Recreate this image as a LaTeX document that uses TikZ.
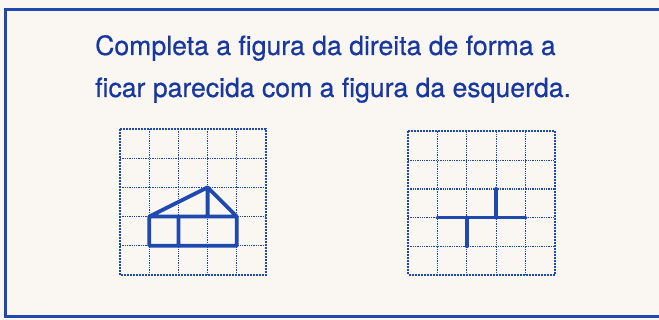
\documentclass[tikz,border=0pt]{standalone}
\usepackage{fontspec}
\setmainfont{TeX Gyre Heros}[FakeBold=0.6]
\usetikzlibrary{positioning}
\definecolor{azul}{RGB}{30,74,176}
\definecolor{azulescuro}{RGB}{24,56,160}
\definecolor{papel}{RGB}{250,247,243}

\begin{document}
\begin{tikzpicture}[x=1pt,y=-1pt,
			quadricula/.style={azul, line width=1.3pt, densely dotted},
			bordo/.style={azul, line width=2pt, densely dotted},
			figura/.style={azul, line width=3.8pt, line join=round, line cap=round},
			moldura/.style={draw=azul, line width=3pt},
			enunciado/.style={anchor=base west, inner sep=0pt, text=azulescuro,
					font=\fontsize{26.6}{30}\selectfont}
		]
		\useasboundingbox[fill=papel] (0,0) rectangle (659,320);
		\draw[moldura] (5.5,10) rectangle (690,316.5);
		\node[enunciado] (linha1) at (95,55) {Completa a figura da direita de forma a};
		\node[enunciado] (linha2) at (95,97) {ficar parecida com a figura da esquerda.};
		% figura da esquerda
		\begin{scope}[shift={(120,129)}, x=29.2pt, y=-29.2pt]
			\foreach \i in {1,...,4} {
					\draw[quadricula] (\i,0) -- (\i,5);
					\draw[quadricula] (0,\i) -- (5,\i);
				}
			\draw[bordo] (0,0) rectangle (5,5);
			\draw[figura] (1,3) rectangle (4,4) (2,3) -- (2,4)
			(1,3) -- (3,2) -- (4,3) (3,2) -- (3,3);
		\end{scope}
		% figura da direita (a completar)
		\begin{scope}[shift={(408,131.5)}, x=29.4pt, y=-28.7pt]
			\foreach \i in {1,...,4} {
					\draw[quadricula] (\i,0) -- (\i,5);
					\draw[quadricula] (0,\i) -- (5,\i);
				}
			\draw[bordo] (0,0) rectangle (5,5);
			\draw[figura] (1,3) -- (4,3) (2,3) -- (2,4) (3,2) -- (3,3);
		\end{scope}
	\end{tikzpicture}
\end{document}
